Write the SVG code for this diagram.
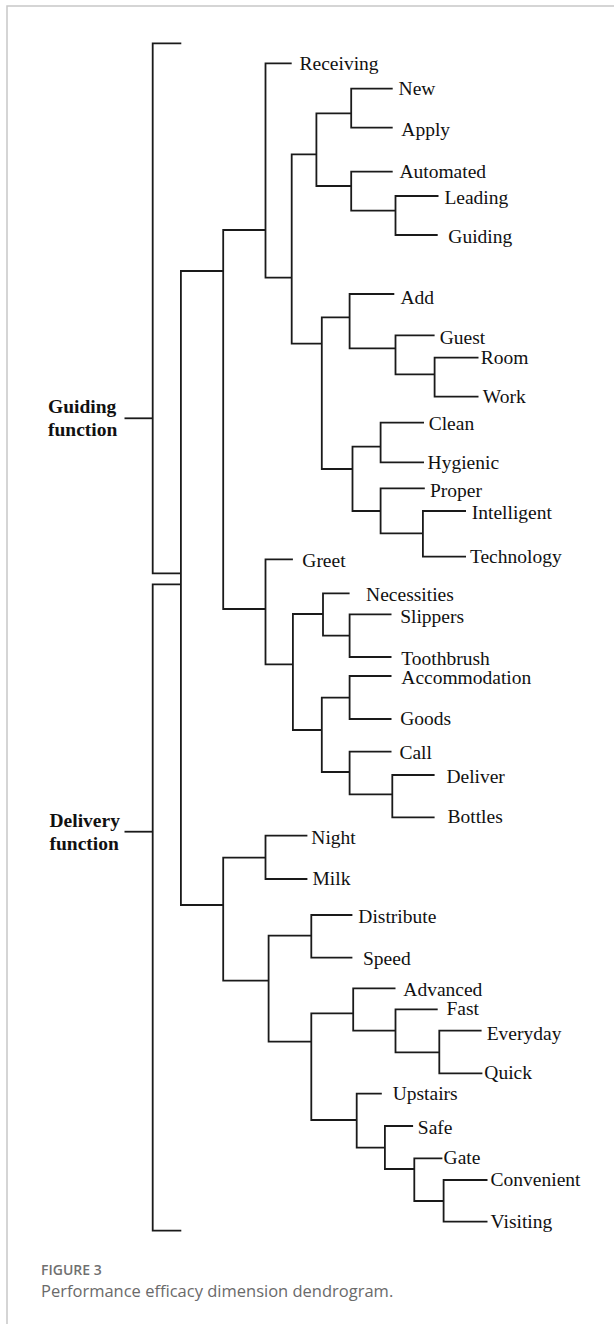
<svg xmlns="http://www.w3.org/2000/svg" width="614" height="1324" viewBox="0 0 614 1324">
<style>
.bg{fill:#ffffff}
.frame{fill:none;stroke:#c8c8c8;stroke-width:1.5}
.ln{fill:none;stroke:#1a1a1a;stroke-width:1.8}
.lbl{font-family:"Liberation Serif","Times New Roman",serif;font-size:19.5px;fill:#111}
.grp{font-family:"Liberation Serif","Times New Roman",serif;font-size:19.5px;font-weight:bold;fill:#111}
.fig{font-family:"Open Sans","Noto Sans",sans-serif;font-size:14px;font-weight:600;fill:#707070}
.cap{font-family:"Open Sans","Noto Sans",sans-serif;font-size:16.5px;fill:#6a6a6a}
</style>
<rect class="bg" x="0" y="0" width="614" height="1324"/>
<path class="frame" d="M7 1324 V6 H614"/>
<g id="connectors">
<path class="ln" d="M181.3 43.3 H152.7 V573.3 H180.9"/>
<path class="ln" d="M124.5 418.3 H152.7"/>
<path class="ln" d="M180.9 584.3 H152.7 V1230.7 H181.3"/>
<path class="ln" d="M124.5 831.7 H152.7"/>
<path class="ln" d="M223.2 271 H180.9 V905 H223.2"/>
<path class="ln" d="M265.5 230 H223.2 V609 H265.5"/>
<path class="ln" d="M291.7 63.3 H265.5 V277.7 H291.7"/>
<path class="ln" d="M316.4 154.3 H291.7 V343.7 H321.8"/>
<path class="ln" d="M351.2 113.3 H316.4 V186 H351.2"/>
<path class="ln" d="M392.7 88.7 H351.2 V127.7 H392.7"/>
<path class="ln" d="M392.7 171.7 H351.2 V210.7 H395.5"/>
<path class="ln" d="M438.5 196 H395.5 V235 H437.7"/>
<path class="ln" d="M349.6 317.3 H321.8 V469 H352.5"/>
<path class="ln" d="M394.3 294 H349.6 V348.3 H395.5"/>
<path class="ln" d="M434.6 335.3 H395.5 V374.3 H434.6"/>
<path class="ln" d="M478.5 357.7 H434.6 V396.7 H478.5"/>
<path class="ln" d="M380.6 446.7 H352.5 V511 H380.6"/>
<path class="ln" d="M424 422.7 H380.6 V462.3 H424"/>
<path class="ln" d="M424.8 488.3 H380.6 V533.3 H422.9"/>
<path class="ln" d="M466 511 H422.9 V556.7 H466"/>
<path class="ln" d="M292.9 559.3 H265.5 V664.3 H292.9"/>
<path class="ln" d="M323 614 H292.9 V730 H321.8"/>
<path class="ln" d="M349.6 593.3 H323 V635.7 H349.6"/>
<path class="ln" d="M391.5 614.3 H349.6 V657 H391.5"/>
<path class="ln" d="M349.6 697.7 H321.8 V772 H349.6"/>
<path class="ln" d="M391.5 676 H349.6 V719 H391.5"/>
<path class="ln" d="M391.5 751.7 H349.6 V794.3 H392.3"/>
<path class="ln" d="M434.6 775 H392.3 V817.3 H434.6"/>
<path class="ln" d="M265.5 857.7 H223.2 V980.7 H268.6"/>
<path class="ln" d="M307.4 835.7 H265.5 V879 H307.4"/>
<path class="ln" d="M311.3 935.7 H268.6 V1041.7 H311.3"/>
<path class="ln" d="M352.4 915 H311.3 V957.7 H352.4"/>
<path class="ln" d="M353.2 1013.3 H311.3 V1120 H356.7"/>
<path class="ln" d="M395.5 988.3 H353.2 V1030.7 H395.5"/>
<path class="ln" d="M437.7 1009.3 H395.5 V1052.3 H439.3"/>
<path class="ln" d="M481.6 1030.7 H439.3 V1073.3 H482.4"/>
<path class="ln" d="M381.8 1093.7 H356.7 V1147.7 H384.9"/>
<path class="ln" d="M413.1 1126 H384.9 V1169 H414.3"/>
<path class="ln" d="M442.4 1158.3 H414.3 V1201 H443.6"/>
<path class="ln" d="M487.5 1180 H443.6 V1221.7 H487.5"/>
</g>
<g id="guiding-function"><text class="grp" x="48" y="413">Guiding</text><text class="grp" x="48" y="436">function</text></g>
<g id="delivery-function"><text class="grp" x="49.5" y="827">Delivery</text><text class="grp" x="49.5" y="850">function</text></g>
<g id="receiving"><text class="lbl" x="299.5" y="69.8">Receiving</text></g>
<g id="new"><text class="lbl" x="398.6" y="95.3">New</text></g>
<g id="apply"><text class="lbl" x="401.3" y="136.3">Apply</text></g>
<g id="automated"><text class="lbl" x="399.4" y="177.7">Automated</text></g>
<g id="leading"><text class="lbl" x="444.4" y="203.7">Leading</text></g>
<g id="guiding"><text class="lbl" x="448.3" y="243.3">Guiding</text></g>
<g id="add"><text class="lbl" x="400.5" y="304.3">Add</text></g>
<g id="guest"><text class="lbl" x="439.7" y="344.3">Guest</text></g>
<g id="room"><text class="lbl" x="480.8" y="364.3">Room</text></g>
<g id="work"><text class="lbl" x="482.8" y="402.7">Work</text></g>
<g id="clean"><text class="lbl" x="428.7" y="430">Clean</text></g>
<g id="hygienic"><text class="lbl" x="427.6" y="469">Hygienic</text></g>
<g id="proper"><text class="lbl" x="429.9" y="496.7">Proper</text></g>
<g id="intelligent"><text class="lbl" x="471.8" y="519.3">Intelligent</text></g>
<g id="technology"><text class="lbl" x="469.9" y="563.3">Technology</text></g>
<g id="greet"><text class="lbl" x="302.3" y="567">Greet</text></g>
<g id="necessities"><text class="lbl" x="366.1" y="601">Necessities</text></g>
<g id="slippers"><text class="lbl" x="400.2" y="622.7">Slippers</text></g>
<g id="toothbrush"><text class="lbl" x="401.3" y="665">Toothbrush</text></g>
<g id="accommodation"><text class="lbl" x="401.3" y="684.3">Accommodation</text></g>
<g id="goods"><text class="lbl" x="400.2" y="725">Goods</text></g>
<g id="call"><text class="lbl" x="399.4" y="758.7">Call</text></g>
<g id="deliver"><text class="lbl" x="446.4" y="782.7">Deliver</text></g>
<g id="bottles"><text class="lbl" x="447.5" y="822.7">Bottles</text></g>
<g id="night"><text class="lbl" x="311.3" y="844.3">Night</text></g>
<g id="milk"><text class="lbl" x="312.5" y="885">Milk</text></g>
<g id="distribute"><text class="lbl" x="358.3" y="922.7">Distribute</text></g>
<g id="speed"><text class="lbl" x="363" y="965.3">Speed</text></g>
<g id="advanced"><text class="lbl" x="403.3" y="995.5">Advanced</text></g>
<g id="fast"><text class="lbl" x="446.4" y="1014.8">Fast</text></g>
<g id="everyday"><text class="lbl" x="486.7" y="1040.3">Everyday</text></g>
<g id="quick"><text class="lbl" x="484.3" y="1079.3">Quick</text></g>
<g id="upstairs"><text class="lbl" x="392.7" y="1100">Upstairs</text></g>
<g id="safe"><text class="lbl" x="417.8" y="1134.3">Safe</text></g>
<g id="gate"><text class="lbl" x="443.6" y="1164.3">Gate</text></g>
<g id="convenient"><text class="lbl" x="490.6" y="1186">Convenient</text></g>
<g id="visiting"><text class="lbl" x="490.6" y="1227.7">Visiting</text></g>
<g id="caption"><text class="fig" x="41" y="1274.5">FIGURE 3</text><text class="cap" x="41" y="1296.5">Performance efficacy dimension dendrogram.</text></g>
</svg>
